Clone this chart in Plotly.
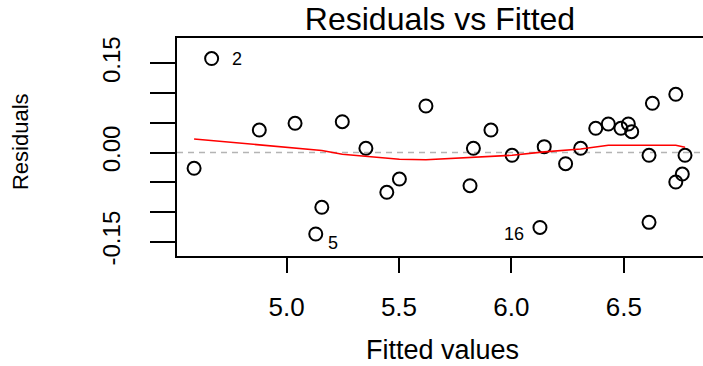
import plotly.graph_objects as go

# Fitted values and residuals of the linear model
fitted = [4.589, 4.667, 4.879, 5.038, 5.248, 5.353, 5.157, 5.130, 5.446, 5.502,
          5.620, 5.909, 5.831, 5.816, 6.003, 6.146, 6.127, 6.241, 6.308, 6.375,
          6.431, 6.487, 6.520, 6.535, 6.627, 6.612, 6.612, 6.731, 6.772, 6.760,
          6.731]
residuals = [-0.0266, 0.158, 0.0378, 0.0491, 0.0518, 0.0071, -0.0921, -0.137,
             -0.0669, -0.0446, 0.0782, 0.0378, 0.0071, -0.0558, -0.0047, 0.0098,
             -0.126, -0.0188, 0.0071, 0.0407, 0.0479, 0.0407, 0.0479, 0.0350,
             0.0827, -0.0047, -0.1174, 0.0979, -0.0047, -0.0362, -0.0496]

# lowess smoother through the residuals
smooth_x = [4.589, 4.879, 5.038, 5.157, 5.248, 5.353, 5.502, 5.620, 5.816,
            6.003, 6.146, 6.308, 6.431, 6.612, 6.731, 6.772]
smooth_y = [0.0227, 0.0126, 0.0075, 0.0035, -0.003, -0.0065, -0.0114, -0.0122,
            -0.0085, -0.0047, 0.0010, 0.0059, 0.0121, 0.0121, 0.0121, 0.0087]

# observations flagged with their index
flagged = {"2": 1, "5": 7, "16": 16}
flag_shift = {"2": (25, 0), "5": (17, -9), "16": (-26, -7)}

x_ticks = [5.0, 5.5, 6.0, 6.5]
x_tick_text = ["5.0", "5.5", "6.0", "6.5"]
y_ticks = [-0.15, -0.10, -0.05, 0.0, 0.05, 0.10, 0.15]
y_tick_text = ["-0.15", "", "", "0.00", "", "", "0.15"]

FONT = "Liberation Sans, Arial, sans-serif"

fig = go.Figure()

fig.add_trace(go.Scatter(
    x=[4.513, 6.852], y=[0, 0], mode="lines",
    line=dict(color="#b4b4b4", width=1.5, dash="6px,5px"),
    hoverinfo="skip", showlegend=False))

fig.add_trace(go.Scatter(
    x=fitted, y=residuals, mode="markers",
    marker=dict(symbol="circle-open", size=13, color="black",
                line=dict(width=2, color="black")),
    showlegend=False))

fig.add_trace(go.Scatter(
    x=smooth_x, y=smooth_y, mode="lines",
    line=dict(color="red", width=1.6),
    showlegend=False))

for label, idx in flagged.items():
    dx, dy = flag_shift[label]
    fig.add_annotation(
        x=fitted[idx], y=residuals[idx], text=label, showarrow=False,
        xshift=dx, yshift=dy, font=dict(family=FONT, size=18, color="black"))

fig.add_annotation(
    xref="paper", yref="paper", x=0.504, y=-0.43, text="Fitted values",
    showarrow=False, yanchor="middle",
    font=dict(family=FONT, size=27, color="black"))

fig.add_annotation(
    xref="paper", yref="paper", x=-0.2975, y=0.525, text="Residuals",
    showarrow=False, textangle=-90, xanchor="center", yanchor="middle",
    font=dict(family=FONT, size=22, color="black"))

fig.update_layout(
    width=703, height=366,
    margin=dict(l=177, r=0, t=38, b=110),
    paper_bgcolor="white", plot_bgcolor="white",
    title=dict(text="Residuals vs Fitted", xref="paper", x=0.5,
               yref="container", y=1 - 19 / 366, yanchor="middle",
               xanchor="center",
               font=dict(family=FONT, size=32, color="black")),
    xaxis=dict(range=[4.513, 6.852], tickvals=x_ticks, ticktext=x_tick_text,
               ticks="outside", ticklen=15, tickwidth=2, tickcolor="black",
               showline=True, linecolor="black", linewidth=2, mirror=True,
               showgrid=False, zeroline=False, ticklabelstandoff=12,
               tickfont=dict(family=FONT, size=26, color="black")),
    yaxis=dict(range=[-0.174, 0.1925], tickvals=y_ticks, ticktext=y_tick_text,
               ticks="outside", ticklen=25, tickwidth=2, tickcolor="black",
               showline=True, linecolor="black", linewidth=2,
               showgrid=False, zeroline=False, tickangle=-90,
               ticklabelstandoff=20,
               tickfont=dict(family=FONT, size=24, color="black")),
)

fig.write_html("out.html")
